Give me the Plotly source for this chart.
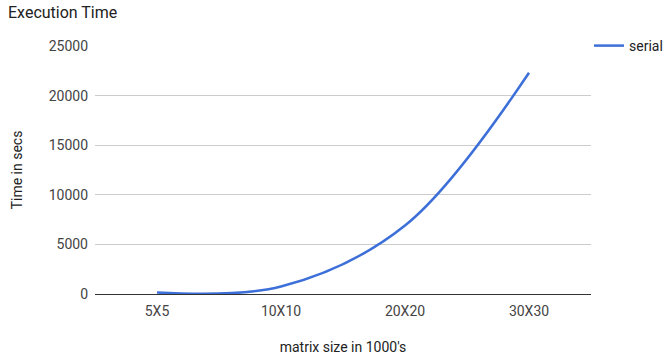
import plotly.graph_objects as go

# Matrix sizes (in thousands) and measured serial execution time
sizes = ["5X5", "10X10", "20X20", "30X30"]
serial_secs = [150, 750, 6900, 22300]

y_ticks = [0, 5000, 10000, 15000, 20000, 25000]

fig = go.Figure()
fig.add_trace(go.Scatter(
    x=sizes,
    y=serial_secs,
    mode="lines",
    name="serial",
    line=dict(color="#3c6fd8", width=2.5, shape="spline", smoothing=1.0),
))

# plot area spans x 95..591 px; the paper extends to the right edge so the
# legend can sit beside the plot without pushing the margins
fig.update_layout(
    width=668,
    height=360,
    margin=dict(l=95, r=0, t=46, b=66),
    paper_bgcolor="white",
    plot_bgcolor="white",
    font=dict(family="Roboto", size=14, color="#222222"),
    title=dict(text="Execution Time", x=0.012, xanchor="left", y=0.98, yanchor="top",
               font=dict(family="Roboto", size=16, color="#222222")),
    showlegend=True,
    legend=dict(x=1.0, y=1.0, xanchor="right", yanchor="middle",
                font=dict(size=14, color="#222222"), bgcolor="rgba(0,0,0,0)",
                itemwidth=30, borderwidth=0),
)

fig.update_xaxes(
    type="category",
    range=[-0.5, 3.5],
    domain=[0, 496 / 573],
    showgrid=False,
    ticks="",
    ticklabelstandoff=7,
    tickfont=dict(size=14, color="#444444"),
    title=dict(text="matrix size in 1000's", font=dict(size=14, color="#222222"), standoff=24),
)

fig.update_yaxes(
    range=[0, 25000],
    tickvals=y_ticks,
    ticktext=[str(v) for v in y_ticks],
    showgrid=True,
    gridcolor="#cccccc",
    gridwidth=1,
    zeroline=True,
    zerolinecolor="#333333",
    zerolinewidth=1,
    tickfont=dict(size=14, color="#444444"),
    ticks="",
    ticklabelstandoff=6,
    title=dict(text="Time in secs", font=dict(size=14, color="#222222"), standoff=22),
)

fig.write_html("out.html")
